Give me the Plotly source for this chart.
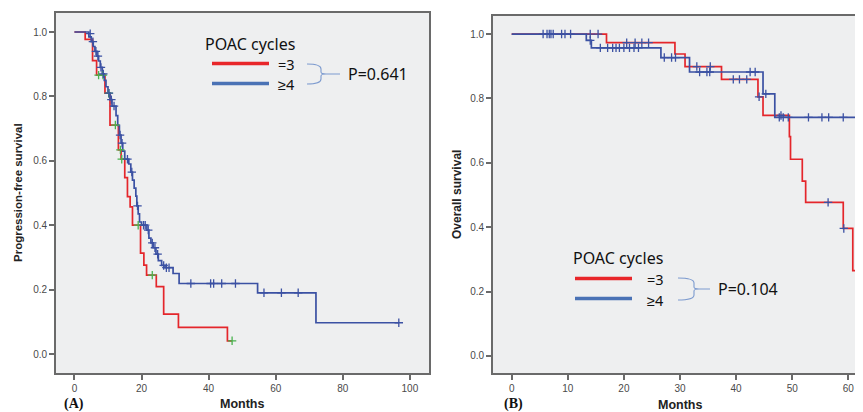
import plotly.graph_objects as go

W, H = 863, 412
OFF = 8  # page body margin of the written html

# ---------------- data: (A) progression-free survival ----------------
pfs_eq3_t = [0, 3.2, 5.4, 6.6, 9.1, 10.6, 13.1, 13.9, 15.0, 15.8, 16.6, 17.3, 19.7, 20.7, 21.5, 24.4, 26.6, 31.0, 45.6, 47.0]
pfs_eq3_s = [1.0, 0.977, 0.911, 0.866, 0.81, 0.711, 0.634, 0.605, 0.548, 0.489, 0.457, 0.40, 0.313, 0.276, 0.245, 0.209, 0.124, 0.083, 0.041, 0.041]
pfs_eq3_cens_t = [7.2, 8.5, 10.2, 12.2, 13.7, 14.1, 19.0, 23.2, 47.0]
pfs_eq3_cens_s = [0.866, 0.866, 0.81, 0.711, 0.634, 0.605, 0.40, 0.245, 0.041]

pfs_ge4_t = [0, 4.3, 5.0, 5.6, 6.1, 6.7, 7.2, 7.7, 8.3, 8.9, 9.4, 10.0, 10.6, 11.2, 12.4, 12.9, 13.4, 13.9, 14.4,
             15.0, 16.2, 16.8, 17.3, 17.8, 18.3, 18.6, 19.0, 19.4, 20.0, 21.6, 22.2, 22.8, 23.5, 24.3, 25.0,
             26.0, 27.0, 29.4, 31.2, 54.6, 72.0, 96.7]
pfs_ge4_s = [1.0, 0.985, 0.97, 0.955, 0.94, 0.925, 0.91, 0.89, 0.87, 0.85, 0.83, 0.81, 0.79, 0.77, 0.74, 0.71, 0.68, 0.655, 0.63,
             0.605, 0.59, 0.565, 0.54, 0.515, 0.49, 0.46, 0.435, 0.41, 0.40, 0.385, 0.36, 0.345, 0.33, 0.31, 0.29,
             0.275, 0.268, 0.25, 0.219, 0.19, 0.097, 0.097]
pfs_ge4_cens_t = [4.7, 5.5, 6.4, 7.0, 7.9, 8.6, 10.3, 11.0, 11.8, 13.6, 14.2, 15.8, 17.1, 18.8, 20.6, 21.1, 22.0, 23.2,
                  24.0, 24.8, 26.6, 27.4, 28.2, 34.7, 40.6, 41.5, 43.9, 48.0, 56.5, 61.7, 66.7, 96.7]
pfs_ge4_cens_s = [0.995, 0.97, 0.94, 0.925, 0.89, 0.87, 0.81, 0.79, 0.77, 0.68, 0.655, 0.605, 0.565, 0.46, 0.40, 0.40, 0.385, 0.345,
                  0.33, 0.31, 0.275, 0.268, 0.268, 0.219, 0.219, 0.219, 0.219, 0.219, 0.19, 0.19, 0.19, 0.097]

# ---------------- data: (B) overall survival ----------------
os_eq3_t = [0, 16.9, 29.1, 30.9, 37.4, 43.9, 44.8, 49.5, 49.7, 51.8, 52.4, 59.1, 60.8, 62.8]
os_eq3_s = [1.0, 0.973, 0.938, 0.899, 0.859, 0.805, 0.747, 0.681, 0.611, 0.543, 0.477, 0.396, 0.265, 0.265]
os_eq3_cens_t = [14.0, 15.4, 20.5, 22.0, 23.2, 24.4, 33.0, 35.4, 39.5, 40.6, 41.9, 44.1, 48.0, 56.4, 59.2, 62.6]
os_eq3_cens_s = [1.0, 1.0, 0.973, 0.973, 0.973, 0.973, 0.899, 0.899, 0.859, 0.859, 0.859, 0.805, 0.747, 0.477, 0.396, 0.265]

os_ge4_t = [0, 13.3, 14.2, 26.6, 31.7, 44.8, 46.9, 62.8]
os_ge4_s = [1.0, 0.98, 0.957, 0.927, 0.882, 0.814, 0.741, 0.741]
os_ge4_cens_t = [5.6, 6.3, 6.7, 7.0, 7.4, 8.9, 9.5, 10.5, 14.0, 15.8, 17.1, 18.0, 18.6, 19.2, 20.0, 21.0, 21.8, 22.6,
                 27.2, 28.5, 29.2, 33.5, 34.8, 35.3, 42.5, 43.4, 45.3, 47.7, 48.4, 49.3, 52.9, 55.3, 56.5, 59.1, 62.2]
os_ge4_cens_s = [1.0, 1.0, 1.0, 1.0, 1.0, 1.0, 1.0, 1.0, 0.98, 0.957, 0.957, 0.957, 0.957, 0.957, 0.957, 0.957, 0.957, 0.957,
                 0.927, 0.927, 0.927, 0.882, 0.882, 0.882, 0.882, 0.882, 0.814, 0.741, 0.741, 0.741, 0.741, 0.741, 0.741, 0.741, 0.741]

legend_title = "POAC cycles"
group_labels = ["=3", "≥4"]
p_values = ["P=0.641", "P=0.104"]

RED = "#e4262b"
BLUE = "#3b51a3"
GREEN = "#49b34f"
LEG_RED = "#e8262a"
LEG_BLUE = "#4a72b5"
AXC = "#6a6a6a"


def px(x):
    return (x - OFF) / W


def py(y):
    return 1 - (y - OFF) / H


fig = go.Figure()


def curve(t, s, color, xa, ya):
    fig.add_trace(go.Scatter(x=t, y=s, mode="lines", line=dict(color=color, width=1.7, shape="hv"),
                             xaxis=xa, yaxis=ya, hoverinfo="skip", showlegend=False))


def cens(t, s, color, xa, ya, sym="cross-thin"):
    fig.add_trace(go.Scatter(x=t, y=s, mode="markers",
                             marker=dict(symbol=sym, size=6, color=color, line=dict(width=1.3, color=color)),
                             xaxis=xa, yaxis=ya, hoverinfo="skip", showlegend=False))


curve(pfs_eq3_t, pfs_eq3_s, RED, "x", "y")
curve(pfs_ge4_t, pfs_ge4_s, BLUE, "x", "y")
cens(pfs_eq3_cens_t, pfs_eq3_cens_s, GREEN, "x", "y")
cens(pfs_ge4_cens_t, pfs_ge4_cens_s, BLUE, "x", "y")

curve(os_eq3_t, os_eq3_s, RED, "x2", "y2")
curve(os_ge4_t, os_ge4_s, BLUE, "x2", "y2")
cens(os_eq3_cens_t, os_eq3_cens_s, BLUE, "x2", "y2")
cens(os_ge4_cens_t, os_ge4_cens_s, BLUE, "x2", "y2")

tickfont = dict(family="Liberation Sans, Arial, sans-serif", size=10, color="#4a4a4a")
common = dict(showgrid=False, zeroline=False, showline=True, linecolor=AXC, linewidth=1.6,
              ticks="outside", ticklen=5, tickwidth=1.5, tickcolor=AXC, tickfont=tickfont)

fig.update_layout(
    width=W, height=H,
    margin=dict(l=0, r=0, t=0, b=0),
    paper_bgcolor="white",
    plot_bgcolor="#eeeff0",
    showlegend=False,
    xaxis=dict(domain=[px(56), px(429)], range=[-5.5, 105.7], tickvals=[0, 20, 40, 60, 80, 100],
               mirror=True, anchor="y", **common),
    yaxis=dict(domain=[py(373), py(13)], range=[-0.059, 1.059], tickvals=[0, 0.2, 0.4, 0.6, 0.8, 1.0],
               tickformat=".1f", mirror=True, anchor="x", **common),
    xaxis2=dict(domain=[px(493), 1.0], range=[-3.33, (863 + OFF - 511.7) / 5.61], tickvals=[0, 10, 20, 30, 40, 50, 60],
                mirror=True, anchor="y2", **common),
    yaxis2=dict(domain=[py(373), py(16)], range=[-0.053, 1.056], tickvals=[0, 0.2, 0.4, 0.6, 0.8, 1.0],
                tickformat=".1f", mirror=False, anchor="x2", **common),
)

ann = []


def text(x, y, s, size=15, anchor="left", family="Noto Sans, Liberation Sans, sans-serif", angle=0, bold=False,
         color="#111111"):
    ann.append(dict(x=px(x), y=py(y), xref="paper", yref="paper", text=("<b>%s</b>" % s) if bold else s,
                    showarrow=False, xanchor=anchor, yanchor="middle", textangle=angle, borderpad=0,
                    font=dict(family=family, size=size, color=color)))


# axis titles and panel labels
text(18, 193, "Progression-free survival", size=11.5, anchor="center", family="Liberation Sans, Arial",
     angle=-90, bold=True, color="#222")
text(457, 195, "Overall survival", size=12, anchor="center", family="Liberation Sans, Arial",
     angle=-90, bold=True, color="#222")
text(242, 404, "Months", size=12.5, anchor="center", family="Liberation Sans, Arial", bold=True, color="#222")
text(680, 405, "Months", size=12.5, anchor="center", family="Liberation Sans, Arial", bold=True, color="#222")
text(74, 404, "(A)", size=14, anchor="center", family="Liberation Serif, Times New Roman, serif", bold=True,
     color="#111")
text(513, 404, "(B)", size=14, anchor="center", family="Liberation Serif, Times New Roman, serif", bold=True,
     color="#111")

shapes = []


def legend_block(tx, ty, lx0, lx1, ly_r, ly_b, labx, braces, pl):
    text(tx, ty, legend_title, size=16)
    shapes.append(dict(type="line", xref="paper", yref="paper", x0=px(lx0), x1=px(lx1), y0=py(ly_r), y1=py(ly_r),
                       line=dict(color=LEG_RED, width=3.5)))
    shapes.append(dict(type="line", xref="paper", yref="paper", x0=px(lx0), x1=px(lx1), y0=py(ly_b), y1=py(ly_b),
                       line=dict(color=LEG_BLUE, width=3.5)))
    text(labx, ly_r + 0.5, group_labels[0], size=14.5)
    text(labx, ly_b + 1, group_labels[1], size=14.5)
    x0, xs, xt, y0, y1 = braces
    ym = (y0 + y1) / 2
    pts = lambda a, b: "%.5f,%.5f" % (px(a), py(b))
    path = ("M " + pts(x0, y0) + " Q " + pts(xs, y0) + " " + pts(xs, y0 + 5) +
            " L " + pts(xs, ym - 2) + " Q " + pts(xs, ym) + " " + pts(xs + 5, ym) +
            " L " + pts(xt, ym) +
            " M " + pts(xs + 5, ym) + " Q " + pts(xs, ym) + " " + pts(xs, ym + 2) +
            " L " + pts(xs, y1 - 5) + " Q " + pts(xs, y1) + " " + pts(x0, y1))
    shapes.append(dict(type="path", xref="paper", yref="paper", path=path,
                       line=dict(color="#7d9bcf", width=1.1)))
    text(xt + 7, ym, pl, size=16)


legend_block(204, 44, 212, 269, 63.5, 83.5, 277, (307, 321, 340, 64, 84), p_values[0])
legend_block(572, 257.5, 575, 632, 278.5, 298.5, 646, (678, 694, 710, 278, 300), p_values[1])

fig.update_layout(annotations=ann, shapes=shapes)

fig.write_html("out.html")
